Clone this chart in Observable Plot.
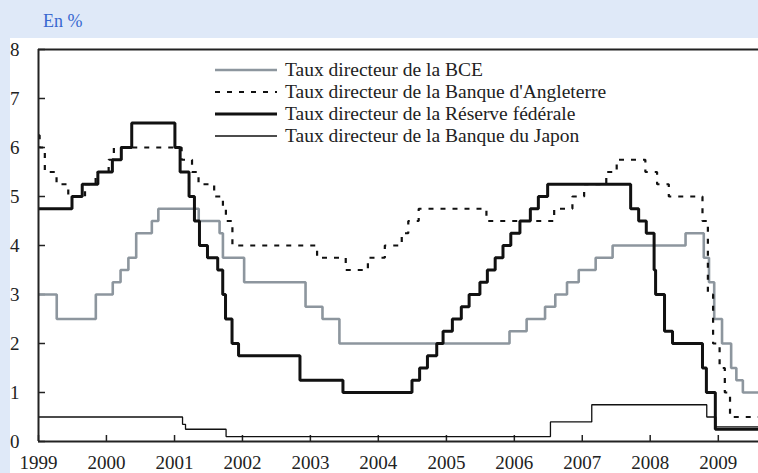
<!DOCTYPE html>
<html><head><meta charset="utf-8">
<script src="https://cdn.jsdelivr.net/npm/d3@7"></script>
<script src="https://cdn.jsdelivr.net/npm/@observablehq/plot@0.6"></script>
<style>
html,body{margin:0;padding:0;}
body{background:#dfe9f8;width:758px;height:473px;overflow:hidden;font-family:'Liberation Serif','Times New Roman','DejaVu Serif',serif;}
#wrap{position:relative;width:758px;height:473px;}
#unit{position:absolute;left:43px;top:9px;font-size:18px;color:#3868d0;line-height:24px;}
#panel{position:absolute;left:10px;top:38px;width:748px;height:435px;background:#fff;}
#chart{position:absolute;left:10px;top:38px;}
#legend{position:absolute;left:215px;top:59px;font-size:19.5px;color:#222;}
.row{display:flex;align-items:center;height:22px;white-space:nowrap;}
.row svg{margin-right:8px;}
</style>
</head><body>
<div id="wrap">
  <div id="unit">En %</div>
  <div id="panel"></div>
  <div id="chart"></div>
  <div id="legend"></div>
</div>
<script>
// ---- Data ----
const endDate = "2009-08-05";
const yearLabels = [1999,2000,2001,2002,2003,2004,2005,2006,2007,2008,2009];
const yTicks = [0,1,2,3,4,5,6,7,8];

const seriesNames = [
  "Taux directeur de la BCE",
  "Taux directeur de la Banque d'Angleterre",
  "Taux directeur de la Réserve fédérale",
  "Taux directeur de la Banque du Japon"
];

const ecbDates = ["1999-01-01","1999-04-09","1999-11-05","2000-02-04","2000-03-17","2000-04-28","2000-06-09","2000-09-01","2000-10-06","2001-05-11","2001-08-31","2001-09-18","2002-01-10","2002-12-06","2003-03-07","2003-06-06","2005-12-06","2006-03-08","2006-06-15","2006-08-09","2006-10-11","2006-12-13","2007-03-14","2007-06-13","2008-07-09","2008-10-15","2008-11-12","2008-12-10","2009-01-21","2009-03-11","2009-04-08","2009-05-13",endDate];
const ecbRates = [3.0,2.5,3.0,3.25,3.5,3.75,4.25,4.5,4.75,4.5,4.25,3.75,3.25,2.75,2.5,2.0,2.25,2.5,2.75,3.0,3.25,3.5,3.75,4.0,4.25,3.75,3.25,2.5,2.0,1.5,1.25,1.0,1.0];

const boeDates = ["1999-01-01","1999-01-07","1999-02-04","1999-04-08","1999-06-10","1999-09-08","1999-11-04","2000-01-13","2000-02-10","2001-02-08","2001-04-05","2001-05-10","2001-08-02","2001-09-18","2001-10-04","2001-11-08","2003-02-06","2003-07-10","2003-11-06","2004-02-05","2004-05-06","2004-06-10","2004-08-05","2005-08-04","2006-08-03","2006-11-09","2007-01-11","2007-05-10","2007-07-05","2007-12-06","2008-02-07","2008-04-10","2008-10-08","2008-11-06","2008-12-04","2009-01-08","2009-02-05","2009-03-05",endDate];
const boeRates = [6.25,6.0,5.5,5.25,5.0,5.25,5.5,5.75,6.0,5.75,5.5,5.25,5.0,4.75,4.5,4.0,3.75,3.5,3.75,4.0,4.25,4.5,4.75,4.5,4.75,5.0,5.25,5.5,5.75,5.5,5.25,5.0,4.5,3.0,2.0,1.5,1.0,0.5,0.5];

const fedDates = ["1999-01-01","1999-06-30","1999-08-24","1999-11-16","2000-02-02","2000-03-21","2000-05-16","2001-01-03","2001-01-31","2001-03-20","2001-04-18","2001-05-15","2001-06-27","2001-08-21","2001-09-17","2001-10-02","2001-11-06","2001-12-11","2002-11-06","2003-06-25","2004-06-30","2004-08-10","2004-09-21","2004-11-10","2004-12-14","2005-02-02","2005-03-22","2005-05-03","2005-06-30","2005-08-09","2005-09-20","2005-11-01","2005-12-13","2006-01-31","2006-03-28","2006-05-10","2006-06-29","2007-09-18","2007-10-31","2007-12-11","2008-01-22","2008-01-30","2008-03-18","2008-04-30","2008-10-08","2008-10-29","2008-12-16",endDate];
const fedRates = [4.75,5.0,5.25,5.5,5.75,6.0,6.5,6.0,5.5,5.0,4.5,4.0,3.75,3.5,3.0,2.5,2.0,1.75,1.25,1.0,1.25,1.5,1.75,2.0,2.25,2.5,2.75,3.0,3.25,3.5,3.75,4.0,4.25,4.5,4.75,5.0,5.25,4.75,4.5,4.25,3.5,3.0,2.25,2.0,1.5,1.0,0.25,0.25];

const bojDates = ["1999-01-01","2001-02-13","2001-03-01","2001-10-05","2006-07-14","2007-02-21","2008-10-31","2008-12-19",endDate];
const bojRates = [0.5,0.35,0.25,0.1,0.4,0.75,0.5,0.3,0.3];

// ---- Styles ----
const styles = [
  {stroke:"#8d969e", strokeWidth:2.6, dash:null},
  {stroke:"#111", strokeWidth:2.2, dash:"5,7"},
  {stroke:"#111", strokeWidth:3, dash:null},
  {stroke:"#111", strokeWidth:1.3, dash:null}
];

const parse = d3.utcParse("%Y-%m-%d");
const mk = (dates, rates) => dates.map((d,i)=>({date:parse(d), rate:rates[i]}));
const ecb = mk(ecbDates, ecbRates);
const boe = mk(boeDates, boeRates);
const fed = mk(fedDates, fedRates);
const boj = mk(bojDates, bojRates);

const xStart = parse("1999-01-01");
const xEnd = parse(endDate);
const xTicks = yearLabels.map(y => new Date(Date.UTC(y,0,1)));

const line = (data, s) => Plot.line(data, {x:"date", y:"rate", curve:"step-after",
  stroke:s.stroke, strokeWidth:s.strokeWidth, strokeDasharray:s.dash, strokeLinejoin:"miter", strokeLinecap:"butt"});

const chart = Plot.plot({
  width:748, height:435,
  marginLeft:28, marginRight:0, marginTop:11, marginBottom:32,
  style:{fontFamily:"'Liberation Serif','Times New Roman','DejaVu Serif',serif", fontSize:"19px", color:"#222", background:"transparent", overflow:"visible"},
  x:{type:"utc", domain:[xStart, xEnd]},
  y:{domain:[0,8]},
  marks:[
    Plot.axisX({ticks:xTicks, tickSize:-6, tickPadding:20, tickFormat:d3.utcFormat("%Y"), label:null, stroke:"#222", strokeWidth:1.5, fill:"#222"}),
    Plot.axisY({ticks:yTicks, tickSize:-7, tickPadding:26, label:null, stroke:"#222", strokeWidth:1.5, fill:"#222"}),
    line(boj, styles[3]),
    line(ecb, styles[0]),
    line(boe, styles[1]),
    line(fed, styles[2]),
    Plot.ruleY([0, 8], {stroke:"#222", strokeWidth:2}),
    Plot.ruleX([xStart], {stroke:"#222", strokeWidth:2})
  ]
});
document.getElementById("chart").appendChild(chart);

// ---- Legend ----
const leg = document.getElementById("legend");
seriesNames.forEach((name, i) => {
  const s = styles[i];
  const row = document.createElement("div");
  row.className = "row";
  row.innerHTML = `<svg width="62" height="22"><line x1="0" y1="11" x2="62" y2="11" stroke="${s.stroke}" stroke-width="${s.strokeWidth}" ${s.dash ? `stroke-dasharray="${s.dash}"` : ""}/></svg><span>${name}</span>`;
  leg.appendChild(row);
});
</script>
</body></html>
